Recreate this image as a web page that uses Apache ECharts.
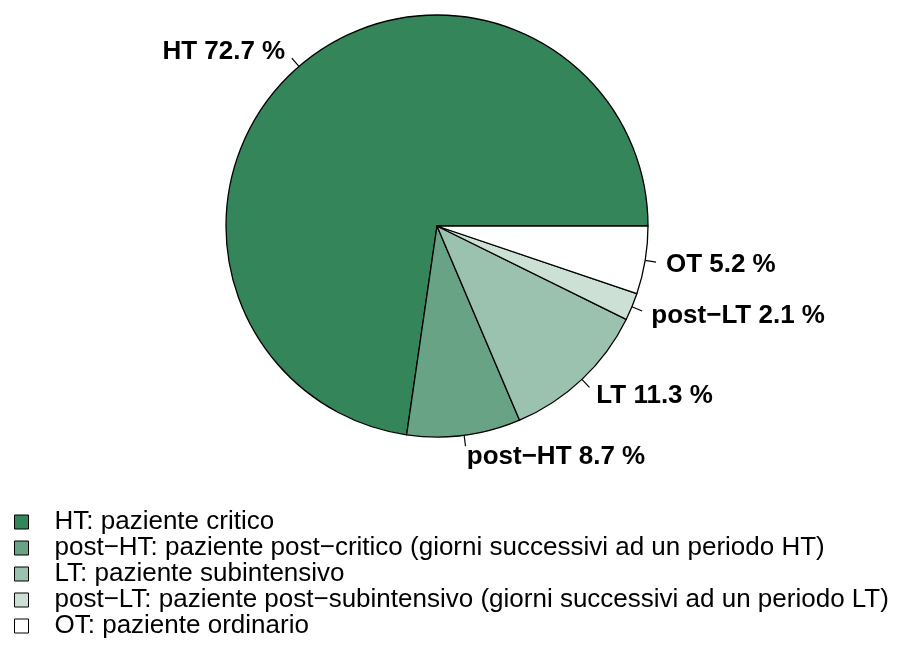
<!DOCTYPE html>
<html lang="it">
<head>
<meta charset="UTF-8">
<title>Pie</title>
<script src="https://cdn.jsdelivr.net/npm/echarts@6/dist/echarts.min.js"></script>
<style>
  html, body { margin: 0; padding: 0; background: #fff; }
  #main { width: 916px; height: 664px; }
</style>
</head>
<body>
<div id="main"></div>
<script>
// categories, shares (%) and legend descriptions
var categories = ['HT', 'post\u2212HT', 'LT', 'post\u2212LT', 'OT'];
var shares = [72.7, 8.7, 11.3, 2.1, 5.2];
var descriptions = [
    'HT: paziente critico',
    'post\u2212HT: paziente post\u2212critico (giorni successivi ad un periodo HT)',
    'LT: paziente subintensivo',
    'post\u2212LT: paziente post\u2212subintensivo (giorni successivi ad un periodo LT)',
    'OT: paziente ordinario'
];
var colors = ['#34855a', '#67a384', '#9ac2ae', '#cde0d6', '#ffffff'];

var font = '"Liberation Sans", Arial, Helvetica, sans-serif';

var pieData = [];
for (var i = 0; i < categories.length; i++) {
    pieData.push({
        name: descriptions[i],
        value: shares[i],
        short: categories[i],
        itemStyle: { color: colors[i] }
    });
}

var myChart = echarts.init(document.getElementById('main'));
var option = {
    animation: false,
    backgroundColor: '#ffffff',
    legend: {
        orient: 'vertical',
        left: 9,
        top: 504,
        icon: 'rect',
        itemWidth: 14,
        itemHeight: 14,
        itemGap: 0,
        selectedMode: false,
        itemStyle: { borderColor: '#000', borderWidth: 1 },
        textStyle: {
            fontFamily: font,
            fontSize: 26,
            color: '#000',
            lineHeight: 24,
            padding: [0, 0, 0, 21]
        },
        data: descriptions
    },
    series: [
        {
            type: 'pie',
            center: [437, 226],
            radius: 211,
            startAngle: 0,
            clockwise: false,
            avoidLabelOverlap: false,
            itemStyle: { borderColor: '#000', borderWidth: 1.3 },
            emphasis: { disabled: true },
            label: {
                show: true,
                position: 'outside',
                fontFamily: font,
                fontWeight: 'bold',
                fontSize: 26,
                color: '#000',
                distanceToLabelLine: 0,
                formatter: function (p) {
                    return p.data.short + ' ' + p.value.toFixed(1) + ' %';
                }
            },
            labelLine: {
                show: true,
                length: 11,
                length2: 0,
                lineStyle: { color: '#000', width: 1.2 }
            },
            // push each label a bit further out along its own leader line
            labelLayout: function (params) {
                var pts = params.labelLinePoints;
                if (!pts) return {};
                var vx = pts[1][0] - pts[0][0];
                var vy = pts[1][1] - pts[0][1];
                var len = Math.sqrt(vx * vx + vy * vy) || 1;
                return { dx: vx / len * 10, dy: vy / len * 10 + 1 };
            },
            data: pieData
        }
    ]
};
myChart.setOption(option);
</script>
</body>
</html>
